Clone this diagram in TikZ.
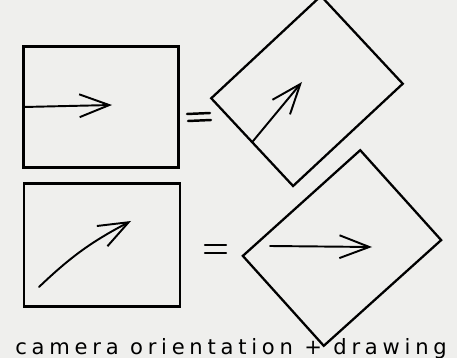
\documentclass[tikz,border=0pt]{standalone}
\usepackage{fontspec}
\usetikzlibrary{arrows.meta}
\newfontfamily\notefont[LetterSpace=22.5]{DejaVu Sans}
\definecolor{paper}{RGB}{239,239,237}

\begin{document}
\begin{tikzpicture}[x=0.02cm, y=-0.02cm, >={Straight Barb[length=17pt,width=13pt]},
    cam/.style={draw, rectangle, line width=1.6pt, inner sep=0pt, outer sep=0pt, minimum width=3.1cm, minimum height=2.42cm},
    tilted/.style={cam, line width=1.3pt, rotate=#1},
    pen/.style={->, line width=1.1pt, line cap=round},
    eq/.style={line width=1.4pt, line cap=round}]

% paper
\fill[paper] (0,0) rectangle (457,358);
\useasboundingbox (0,0) rectangle (457,358);

% top row: level camera, horizontal stroke
\node[cam] (camA) at (101,107) {};
\coordinate (tipA) at (112,105);
\draw[pen] (camA.west) -- (tipA);

\draw[eq] (187,114) -- (210,113) (188,121) -- (211,120);

% top row: tilted camera
\node[tilted=43, minimum width=3.0cm, minimum height=2.4cm] (camB) at (307,91) {};
\coordinate (tipB) at (302,82);
\draw[pen] (camB.west) -- (tipB);

% bottom row: level camera, diagonal stroke
\node[cam, minimum width=3.12cm, minimum height=2.46cm] (camC) at (102,245) {};
\coordinate (tailC) at (39,287);
\coordinate (tipC) at (131,221);
\draw[pen] (tailC) to[bend left=8] (tipC);

\draw[eq] (205,245) -- (226,245) (205,253) -- (226,253);

% bottom row: tilted camera, horizontal stroke
\node[tilted=42, minimum width=3.16cm, minimum height=2.42cm] (camD) at (342,248) {};
\coordinate (tailD) at (270,246);
\coordinate (tipD) at (372,247);
\draw[pen] (tailD) -- (tipD);

% caption at the foot of the page
\node[anchor=base west, inner sep=0pt, font=\notefont\fontsize{12}{14}\selectfont] (cap) at (15,355) {camera orientation + drawing};

\end{tikzpicture}
\end{document}
